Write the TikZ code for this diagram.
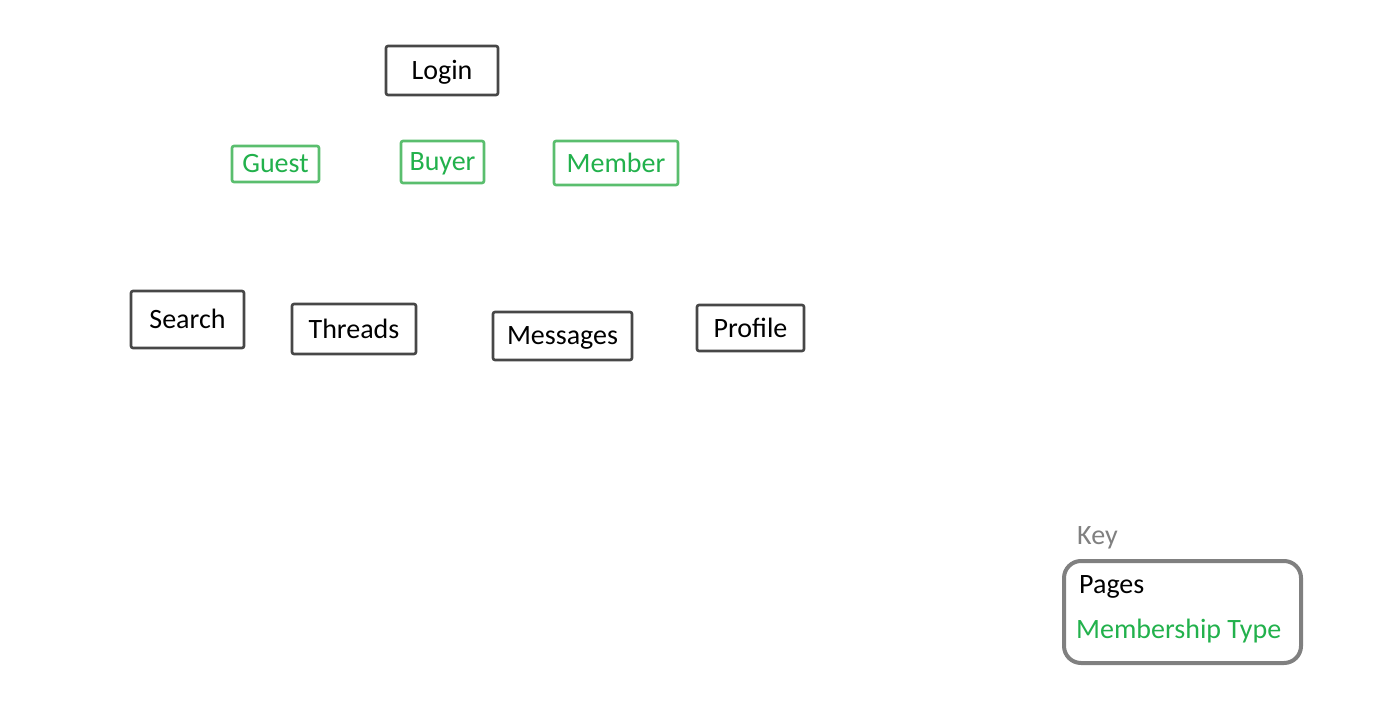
\documentclass[tikz,border=0pt]{standalone}
\usepackage{fontspec}
\setmainfont{Carlito}
\definecolor{pgreen}{RGB}{34,177,76}
\definecolor{pgreenbox}{RGB}{90,190,110}
\definecolor{pgray}{RGB}{128,128,128}
\begin{document}
\begin{tikzpicture}[x=1pt,y=-1pt,
  page/.style={draw=black!72,line width=2.6pt,rounded corners=2pt,fill=white,
    font=\fontsize{28}{32}\selectfont,text=black,inner sep=0pt,text depth=1pt},
  member/.style={draw=pgreenbox,line width=2.6pt,rounded corners=2pt,fill=white,
    font=\fontsize{28}{32}\selectfont,text=pgreen,inner sep=0pt,text depth=1pt},
  keytext/.style={font=\fontsize{28}{32}\selectfont,inner sep=0pt,anchor=west}]
\useasboundingbox (0,0) rectangle (1383,703);
\node[page,minimum width=112pt,minimum height=49pt] (login) at (442,70.5) {Login};
\node[member,minimum width=87pt,minimum height=36pt] (guest) at (275.5,164) {Guest};
\node[member,minimum width=83pt,minimum height=42pt] (buyer) at (442.5,162) {Buyer};
\node[member,minimum width=124pt,minimum height=44pt] (memb) at (616,163) {Member};
\node[page,minimum width=113pt,minimum height=57pt] (search) at (187.5,319.5) {Search};
\node[page,minimum width=124pt,minimum height=50pt] (threads) at (354,329) {Threads};
\node[page,minimum width=139pt,minimum height=48pt] (messages) at (562.5,336) {Messages};
\node[page,minimum width=107pt,minimum height=46pt] (profile) at (750.5,328) {Profile};
\node[keytext,text=pgray] (keylabel) at (1077,538) {Key};
\node[draw=pgray,line width=4pt,rounded corners=17pt,minimum width=237pt,minimum height=102pt,inner sep=0pt] (keybox) at (1182.5,612) {};
\node[keytext,text=black] (kpages) at (1079,587) {Pages};
\node[keytext,text=pgreen] (kmemb) at (1076,631) {Membership Type};
\end{tikzpicture}
\end{document}
